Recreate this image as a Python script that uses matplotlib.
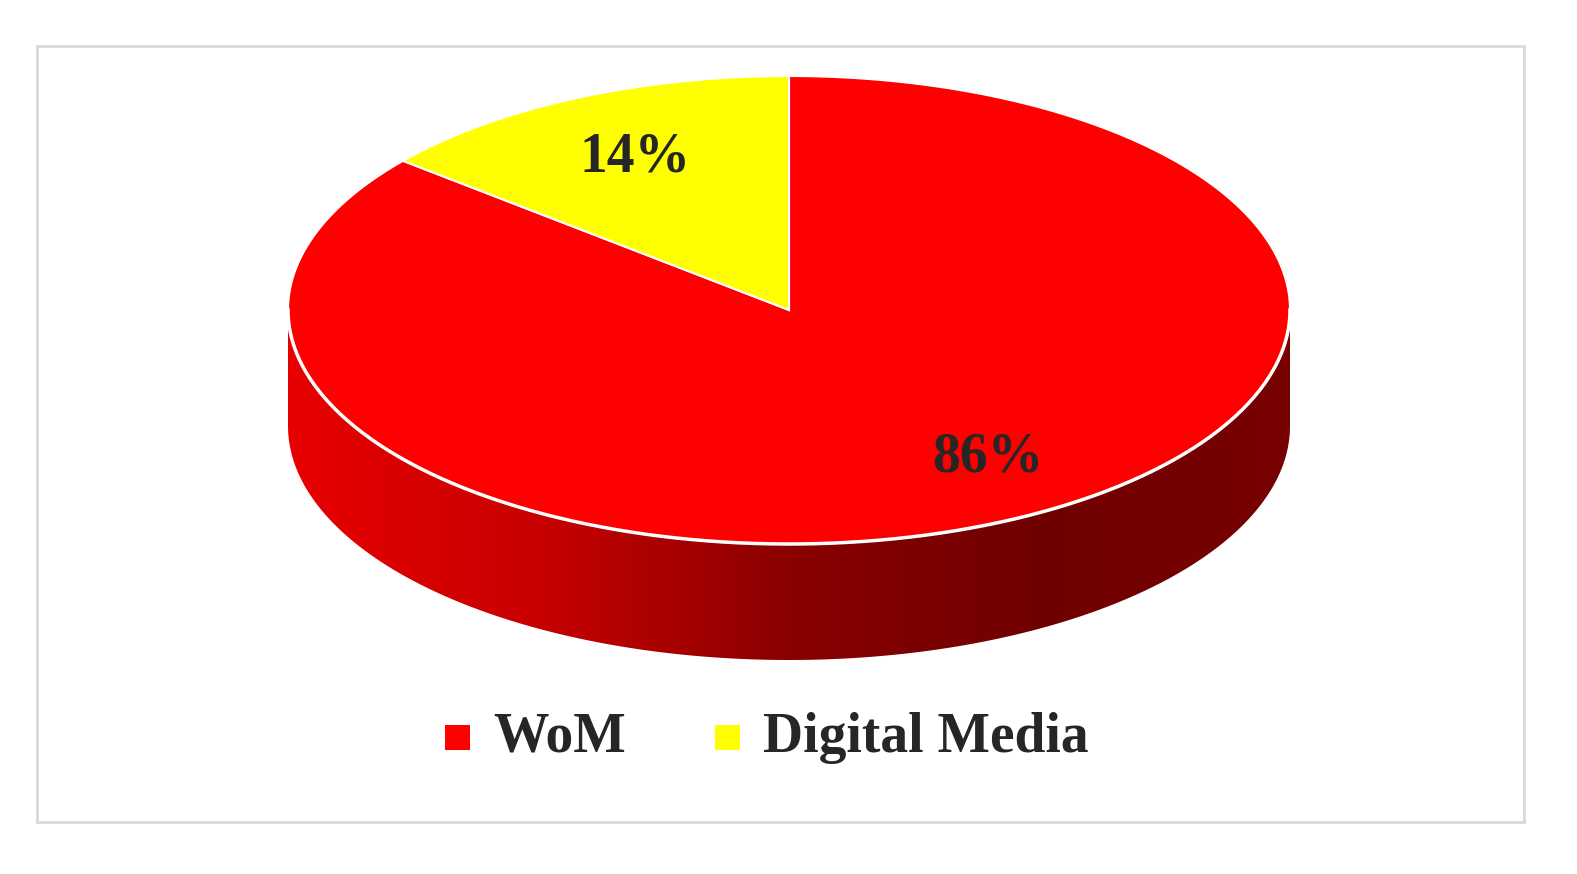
import numpy as np
import matplotlib.pyplot as plt
from matplotlib.patches import Polygon, Rectangle
from matplotlib.colors import LinearSegmentedColormap

categories = ['WoM', 'Digital Media']
values = [86, 14]
colors = ['#ff0000', '#ffff00']

fig = plt.figure(figsize=(15.77, 8.74), dpi=100)
ax = fig.add_axes([0, 0, 1, 1])
ax.set_xlim(0, 1577)
ax.set_ylim(874, 0)
ax.axis('off')

ax.add_patch(Rectangle((37, 46), 1487, 776, fill=False, edgecolor='#d9d9d9', lw=2))

cx, cy, a, b, depth = 789, 310, 501, 234, 116


def pt(t, r=1.0, dy=0):
    t = np.radians(t)
    return cx + r * a * np.cos(t), cy - r * b * np.sin(t) + dy


# side of the disc with a left-to-right shading
ts = np.linspace(180, 360, 200)
top = np.column_stack(pt(ts))
bot = np.column_stack(pt(ts[::-1], dy=depth))
side = Polygon(np.vstack([top, bot]), closed=True, facecolor='none', edgecolor='none')
ax.add_patch(side)
cmap = LinearSegmentedColormap.from_list('side', ['#e80000', '#c80000', '#8a0000', '#700000', '#780000'])
grad = np.linspace(0, 1, 256)[None, :]
im = ax.imshow(grad, cmap=cmap, extent=(cx - a, cx + a, cy + b + depth, cy), aspect='auto', zorder=1)
im.set_clip_path(side)

# top face wedges: start at 12 o'clock, first wedge clockwise
total = sum(values)
start = 90.0
for name, v, c in zip(categories, values, colors):
    span = 360.0 * v / total
    if name == categories[0]:
        t0, t1 = start - span, start
    else:
        t0, t1 = start, start + span
    tt = np.linspace(t0, t1, 300)
    xs, ys = pt(tt)
    poly = np.vstack([[cx, cy], np.column_stack([xs, ys])])
    ax.add_patch(Polygon(poly, closed=True, facecolor=c, edgecolor='white', lw=1.5, zorder=2))
    mid = (t0 + t1) / 2
    lx, ly = pt(mid, r=0.72)
    if name == categories[0]:
        lx, ly = lx + 45, ly - 5
    ax.text(lx, ly, f'{v}%', ha='center', va='center', fontsize=40, fontweight='bold',
            family='Liberation Serif', color='#262626', zorder=3)

# white rim at the front edge
ax.plot(*pt(np.linspace(180, 360, 200)), color='white', lw=2.5, zorder=3)

# legend
lx = [445, 715]
for x, name, c in zip(lx, categories, colors):
    ax.add_patch(Rectangle((x, 725), 25, 25, facecolor=c, edgecolor='none'))
    ax.text(x + 48, 738, name, ha='left', va='center', fontsize=40, fontweight='bold',
            family='Liberation Serif', color='#262626')

fig.savefig('out.png', dpi=100)
